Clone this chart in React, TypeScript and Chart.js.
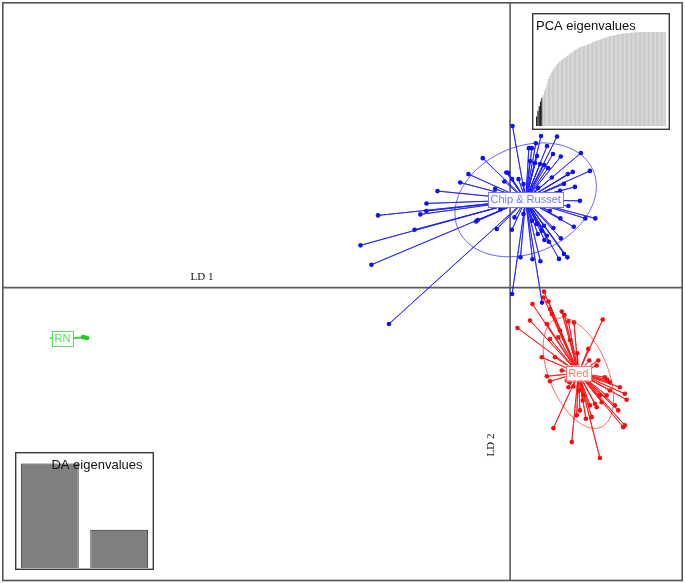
import React, { useEffect, useRef } from 'react';
import { Chart, registerables } from 'chart.js';
Chart.register(...registerables);

// ---------- data (LD units) ----------
const groupNames = ['Chip & Russet', 'Red', 'RN'];

const chipX = [0.12, 1.55, 2.35, 1.29, 0.94, 1.09, 3.55, 2.54, -1.37, 4.0, 3.14, 2.89, -2.09, -0.19, -0.29, -2.5, 2.09, 1.9, -3.64, -4.19, -4.2, -4.5, -6.62, 2.92, 4.27, 3.77, 2.52, 1.99, -0.49, 0.22, -1.62, -1.7, 3.19, 2.17, -4.79, -0.67, 0.09, 1.39, 1.84, 2.54, -7.5, 1.94, 1.72, 2.7, 2.87, 2.45, 1.12, 1.52, 0.52, -6.95, 0.1, 1.6, -6.07, 1.0, 1.25, 1.5, 1.7, 0.42, 0.67, 0.1, -0.09, 0.67, 1.34, 1.7, 1.59, 1.09, 1.85, 2.15, 1.35, 2.7, 3.25, 2.5, -0.75, 1.4, 3.5, 2.35, -0.25];
const chipY = [8.1, 7.6, 7.57, 7.24, 6.99, 6.99, 6.75, 6.57, 6.49, 5.85, 5.8, 5.69, 5.69, 5.77, 5.32, 5.27, 5.52, 5.99, 4.84, 4.22, 3.84, 3.67, 3.62, 4.09, 3.47, 3.47, 3.47, 3.85, 3.92, 3.52, 3.39, 3.32, 3.05, 2.99, 2.9, 2.94, 2.9, 2.69, 2.6, 2.47, 2.12, 2.3, 2.39, 1.69, 1.52, 1.44, 1.42, 1.32, 1.52, 1.15, -0.32, -0.75, -1.82, 6.35, 6.25, 6.2, 6.15, 5.44, 5.19, 5.44, 5.75, 3.69, 3.19, 3.1, 2.85, 3.35, 7.1, 6.7, 6.6, 5.2, 5.05, 4.85, 4.95, 5.0, 4.35, 4.1, 4.6];

const redX = [1.7, 1.12, 1.92, 2.0, 2.59, 2.72, 2.92, 3.2, 1.0, 1.84, 0.37, 4.64, 2.42, 2.0, 3.0, 3.92, 4.42, 3.37, 1.59, 2.25, 2.59, 1.84, 2.0, 4.87, 5.0, 5.5, 5.84, 5.75, 5.0, 4.5, 4.34, 3.17, 2.92, 3.45, 3.67, 3.34, 3.8, 4.09, 2.17, 3.09, 4.5, 5.67, 5.75, 5.42, 5.25, 4.75, 4.34, 2.84, 3.5, 4.25, 4.59, 1.67, 2.09, 2.5, 3.97, 4.84, 2.97, 4.0, 3.64];
const redY = [-0.2, -0.82, -0.69, -1.07, -1.2, -1.37, -1.69, -1.74, -1.65, -1.82, -2.02, -1.6, -2.49, -2.57, -2.62, -3.07, -3.65, -3.29, -3.49, -3.49, -4.15, -4.44, -4.69, -4.62, -4.74, -4.99, -5.62, -5.32, -5.15, -5.4, -5.99, -4.95, -4.99, -5.15, -5.4, -6.4, -6.57, -6.49, -7.04, -7.74, -8.54, -6.99, -6.9, -6.15, -5.9, -4.49, -3.9, -4.65, -6.15, -5.82, -5.74, -0.49, -1.32, -2.15, -3.65, -5.4, -4.74, -5.9, -5.65];

const rnX = [-21.4, -21.3, -21.2];
const rnY = [-2.48, -2.5, -2.52];

const centroidX = [0.78, 3.42, -22.43];
const centroidY = [4.4, -4.28, -2.53];
const ellipseA = [3.69, 2.94, 0.65];
const ellipseB = [2.66, 1.47, 0.02];
const ellipseAngle = [23.8, -67.5, 0];

const pcaCumVar = [0.10, 0.16, 0.21, 0.26, 0.30, 0.33, 0.37, 0.40, 0.45, 0.50, 0.53, 0.56, 0.585, 0.605, 0.625, 0.645, 0.66, 0.675, 0.69, 0.70, 0.71, 0.72, 0.73, 0.74, 0.75, 0.76, 0.77, 0.78, 0.79, 0.80, 0.81, 0.82, 0.83, 0.835, 0.84, 0.845, 0.85, 0.855, 0.86, 0.865, 0.87, 0.875, 0.88, 0.89, 0.895, 0.90, 0.905, 0.91, 0.915, 0.92, 0.925, 0.93, 0.935, 0.94, 0.945, 0.95, 0.955, 0.958, 0.96, 0.963, 0.966, 0.969, 0.972, 0.975, 0.977, 0.979, 0.981, 0.983, 0.985, 0.987, 0.989, 0.99, 0.992, 0.993, 0.994, 0.995, 0.996, 0.997, 0.998, 0.999, 1, 1, 1, 1, 1, 1, 1, 1, 1, 1, 1, 1, 1, 1, 1, 1, 1, 1, 1, 1];
const pcaRetained = 5;
const daEigen = [186.4, 68.1];
const daLabels = ['LD1', 'LD2'];

// ---------- styles ----------
const lineColors = ['rgba(30,30,255,0.8)', 'rgba(255,25,25,0.88)', 'rgba(40,220,40,0.9)'];
const pointColors = ['#1010f0', '#f01010', '#20d020'];
const ellipseColors = ['rgba(60,60,255,0.8)', 'rgba(255,60,60,0.8)', 'rgba(60,230,60,0.9)'];
const labelColors = ['#7474ff', '#ff7474', '#55e055'];
const groupX = [chipX, redX, rnX];
const groupY = [chipY, redY, rnY];

function starData(xs: number[], ys: number[], cx: number, cy: number) {
  const d: { x: number; y: number }[] = [];
  xs.forEach((x, i) => {
    d.push({ x: cx, y: cy });
    d.push({ x, y: ys[i] });
  });
  return d;
}

const mainPlugin = {
  id: 'dapcDecor',
  beforeDatasetsDraw(chart: any) {
    const { ctx, chartArea: a, scales } = chart;
    const xs = scales.x, ys = scales.y;
    ctx.save();
    ctx.strokeStyle = '#5a5a5a';
    ctx.lineWidth = 1.6;
    const y0 = ys.getPixelForValue(0);
    const x0 = xs.getPixelForValue(0);
    ctx.beginPath();
    ctx.moveTo(a.left, y0);
    ctx.lineTo(a.right, y0);
    ctx.moveTo(x0, a.top);
    ctx.lineTo(x0, a.bottom);
    ctx.stroke();
    ctx.fillStyle = '#111';
    ctx.font = "11px 'Liberation Serif', 'DejaVu Serif', serif";
    ctx.textAlign = 'center';
    ctx.textBaseline = 'alphabetic';
    ctx.fillText('LD 1', 202, y0 - 8);
    ctx.save();
    ctx.translate(x0 - 16, 445);
    ctx.rotate(-Math.PI / 2);
    ctx.fillText('LD 2', 0, 0);
    ctx.restore();
    for (let g = 0; g < 3; g++) {
      const th = (ellipseAngle[g] * Math.PI) / 180;
      ctx.strokeStyle = ellipseColors[g];
      ctx.lineWidth = 1;
      ctx.beginPath();
      for (let k = 0; k <= 180; k++) {
        const t = (k / 180) * Math.PI * 2;
        const u = ellipseA[g] * Math.cos(t);
        const v = ellipseB[g] * Math.sin(t);
        const X = centroidX[g] + u * Math.cos(th) - v * Math.sin(th);
        const Y = centroidY[g] + u * Math.sin(th) + v * Math.cos(th);
        const px = xs.getPixelForValue(X);
        const py = ys.getPixelForValue(Y);
        if (k === 0) ctx.moveTo(px, py);
        else ctx.lineTo(px, py);
      }
      ctx.stroke();
    }
    ctx.restore();
  },
  afterDatasetsDraw(chart: any) {
    const { ctx, chartArea: a, scales } = chart;
    ctx.save();
    ctx.font = "11px 'Liberation Sans', Arial, sans-serif";
    ctx.textAlign = 'center';
    ctx.textBaseline = 'middle';
    for (let g = 0; g < 3; g++) {
      const px = scales.x.getPixelForValue(centroidX[g]);
      const py = scales.y.getPixelForValue(centroidY[g]);
      const w = ctx.measureText(groupNames[g]).width + 5;
      const h = 15;
      ctx.fillStyle = '#fff';
      ctx.fillRect(px - w / 2, py - h / 2, w, h);
      ctx.strokeStyle = labelColors[g];
      ctx.lineWidth = 1;
      ctx.strokeRect(Math.round(px - w / 2) + 0.5, Math.round(py - h / 2) + 0.5, Math.round(w), h);
      ctx.fillStyle = labelColors[g];
      ctx.fillText(groupNames[g], px, py + 0.5);
    }
    ctx.strokeStyle = '#555';
    ctx.lineWidth = 1.6;
    ctx.strokeRect(a.left + 0.5, a.top + 0.5, a.right - a.left - 1, a.bottom - a.top);
    ctx.restore();
  },
};

function boxPlugin(title: string, align: 'left' | 'right', tx: number, ty: number) {
  return {
    id: 'box' + title.replace(/\s/g, ''),
    beforeDraw(chart: any) {
      const { ctx, width, height } = chart;
      ctx.save();
      ctx.fillStyle = '#fff';
      ctx.fillRect(0, 0, width, height);
      ctx.restore();
    },
    afterDatasetsDraw(chart: any) {
      const { ctx, width, height } = chart;
      ctx.save();
      ctx.fillStyle = '#111';
      ctx.font = "13px 'Liberation Sans', Arial, sans-serif";
      ctx.textAlign = align;
      ctx.textBaseline = 'alphabetic';
      ctx.fillText(title, tx, ty);
      ctx.strokeStyle = '#3a3a3a';
      ctx.lineWidth = 1.4;
      ctx.strokeRect(0.7, 0.7, width - 1.4, height - 1.4);
      ctx.restore();
    },
  };
}

export default function App() {
  const mainRef = useRef<HTMLCanvasElement>(null);
  const pcaRef = useRef<HTMLCanvasElement>(null);
  const daRef = useRef<HTMLCanvasElement>(null);

  useEffect(() => {
    const datasets = [0, 1, 2].map((g) => ({
      label: groupNames[g],
      data: starData(groupX[g], groupY[g], centroidX[g], centroidY[g]),
      showLine: true,
      borderColor: lineColors[g],
      borderWidth: 1,
      borderJoinStyle: 'round' as const,
      backgroundColor: pointColors[g],
      pointBackgroundColor: pointColors[g],
      pointBorderColor: pointColors[g],
      pointBorderWidth: 0,
      pointRadius: (c: any) => (c.dataIndex % 2 === 0 ? 0 : 2.3),
      pointHoverRadius: 0,
      tension: 0,
    }));
    const main = new Chart(mainRef.current!, {
      type: 'scatter',
      data: { datasets },
      options: {
        animation: false,
        responsive: false,
        devicePixelRatio: 1,
        layout: { padding: { left: 1, top: 1, right: 2, bottom: 3 } },
        plugins: { legend: { display: false }, tooltip: { enabled: false } },
        events: [],
        scales: {
          x: { type: 'linear', min: -25.45, max: 8.65, display: false },
          y: { type: 'linear', min: -14.65, max: 14.3, display: false },
        },
      },
      plugins: [mainPlugin],
    });

    const pca = new Chart(pcaRef.current!, {
      type: 'bar',
      data: {
        labels: pcaCumVar.map((_, i) => String(i + 1)),
        datasets: [
          {
            data: pcaCumVar,
            backgroundColor: pcaCumVar.map((_, i) => (i < pcaRetained ? '#1e1e1e' : '#c8c8c8')),
            borderWidth: 0,
            barPercentage: 0.93,
            categoryPercentage: 1,
          },
        ],
      },
      options: {
        animation: false,
        responsive: false,
        devicePixelRatio: 1,
        layout: { padding: { left: 4, top: 3, right: 4, bottom: 4 } },
        plugins: { legend: { display: false }, tooltip: { enabled: false } },
        events: [],
        scales: {
          x: { display: false },
          y: { display: false, min: 0, max: 1.17 },
        },
      },
      plugins: [boxPlugin('PCA eigenvalues', 'left', 4, 17)],
    });

    const da = new Chart(daRef.current!, {
      type: 'bar',
      data: {
        labels: daLabels,
        datasets: [
          {
            data: daEigen,
            backgroundColor: '#7f7f7f',
            borderColor: '#222',
            borderWidth: 1,
            barPercentage: 0.833,
            categoryPercentage: 1,
          },
        ],
      },
      options: {
        animation: false,
        responsive: false,
        devicePixelRatio: 1,
        layout: { padding: { left: 0, top: 1, right: 0, bottom: 2 } },
        plugins: { legend: { display: false }, tooltip: { enabled: false } },
        events: [],
        scales: {
          x: { display: false },
          y: { display: false, min: 0, max: 205 },
        },
      },
      plugins: [boxPlugin('DA eigenvalues', 'right', 127.5, 17)],
    });

    return () => {
      main.destroy();
      pca.destroy();
      da.destroy();
    };
  }, []);

  return (
    <div style={{ position: 'fixed', left: 0, top: 0, width: 685, height: 583, background: '#fff' }}>
      <canvas ref={mainRef} width={685} height={583} style={{ position: 'absolute', left: 0, top: 0 }} />
      <canvas ref={pcaRef} width={138} height={117} style={{ position: 'absolute', left: 532, top: 13 }} />
      <canvas ref={daRef} width={139} height={118} style={{ position: 'absolute', left: 15, top: 452 }} />
    </div>
  );
}
